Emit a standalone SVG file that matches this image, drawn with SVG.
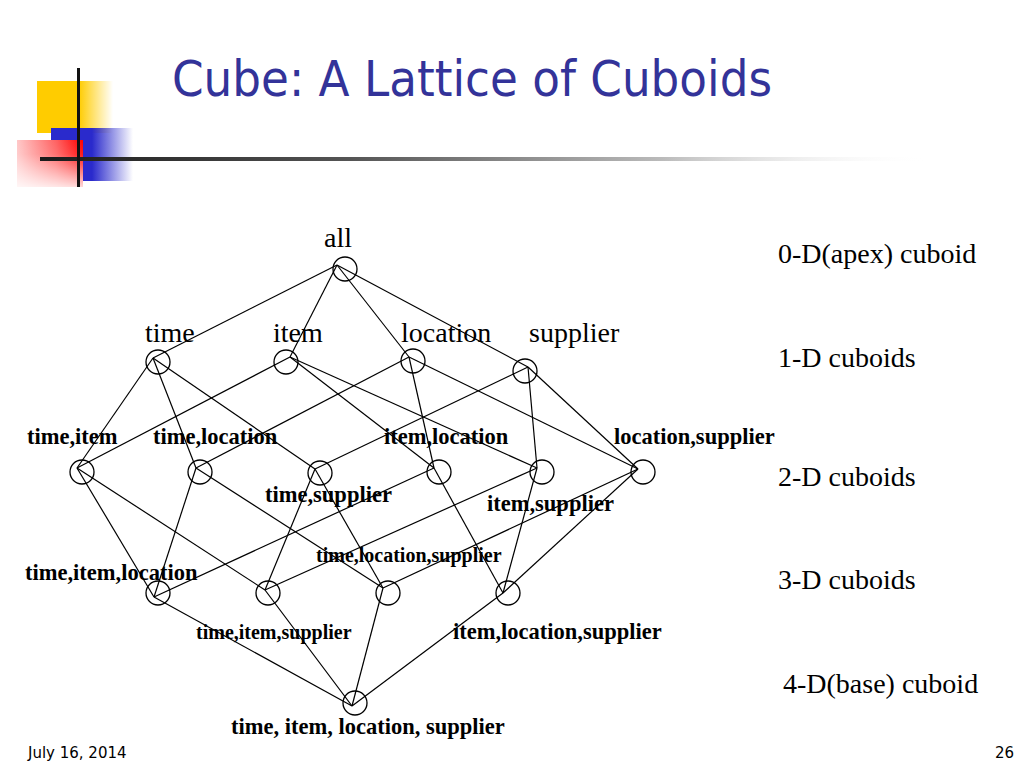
<svg xmlns="http://www.w3.org/2000/svg" width="1024" height="768" viewBox="0 0 1024 768">
<defs>
<linearGradient id="gY" x1="0" y1="0" x2="1" y2="0"><stop offset="0" stop-color="#FFCC00"/><stop offset="0.55" stop-color="#FFCC00"/><stop offset="1" stop-color="#FFCC00" stop-opacity="0"/></linearGradient>
<linearGradient id="gB" x1="0" y1="0" x2="1" y2="0"><stop offset="0" stop-color="#2A2ACC"/><stop offset="0.5" stop-color="#2A2ACC"/><stop offset="1" stop-color="#2A2ACC" stop-opacity="0"/></linearGradient>
<linearGradient id="gR" x1="0" y1="0" x2="1" y2="0"><stop offset="0" stop-color="#FFC8C8"/><stop offset="0.6" stop-color="#FF6060"/><stop offset="1" stop-color="#FF0000"/></linearGradient>
<linearGradient id="gRw" x1="0" y1="0" x2="0" y2="1"><stop offset="0" stop-color="#fff" stop-opacity="0"/><stop offset="0.3" stop-color="#fff" stop-opacity="0.1"/><stop offset="1" stop-color="#fff" stop-opacity="0.85"/></linearGradient>
<linearGradient id="gL" x1="0" y1="0" x2="1" y2="0"><stop offset="0" stop-color="#1a1a1a"/><stop offset="0.35" stop-color="#555"/><stop offset="0.7" stop-color="#bbb"/><stop offset="1" stop-color="#fff" stop-opacity="0"/></linearGradient>
<style>
.title{font-family:"DejaVu Sans","Liberation Sans",sans-serif;font-size:50px;fill:#333399}
.foot{font-family:"DejaVu Sans","Liberation Sans",sans-serif;font-size:15px;fill:#000}
.lab{font-family:"Liberation Serif","Times New Roman",serif;font-size:28px;fill:#000}
.b{font-family:"Liberation Serif","Times New Roman",serif;font-size:22.5px;font-weight:bold;fill:#000}
.bs{font-family:"Liberation Serif","Times New Roman",serif;font-size:20px;font-weight:bold;fill:#000}
.n{fill:none;stroke:#000;stroke-width:1.3}
.e line{stroke:#000;stroke-width:1.2}
</style>
</defs>
<rect width="1024" height="768" fill="#fff"/>
<g id="decoration">
<rect x="37" y="81" width="76" height="52" fill="url(#gY)"/>
<rect x="51" y="128" width="82" height="53" fill="url(#gB)"/>
<rect x="17" y="140" width="66" height="47" fill="url(#gR)"/>
<rect x="17" y="140" width="66" height="47" fill="url(#gRw)"/>
<rect x="40" y="157" width="890" height="4" fill="url(#gL)"/>
<rect x="77" y="68" width="3" height="119" fill="#111"/>
</g>
<text class="title" x="172" y="96" textLength="600" lengthAdjust="spacingAndGlyphs">Cube: A Lattice of Cuboids</text>
<g id="connectors" class="e">
<line x1="337" y1="265" x2="153" y2="358"/>
<line x1="337" y1="265" x2="290" y2="357"/>
<line x1="337" y1="265" x2="409" y2="357"/>
<line x1="337" y1="265" x2="528" y2="367"/>
<line x1="153" y1="358" x2="77" y2="468"/>
<line x1="153" y1="358" x2="196" y2="468"/>
<line x1="153" y1="358" x2="315" y2="469"/>
<line x1="290" y1="357" x2="77" y2="468"/>
<line x1="290" y1="357" x2="434" y2="468"/>
<line x1="290" y1="357" x2="537" y2="468"/>
<line x1="409" y1="357" x2="196" y2="468"/>
<line x1="409" y1="357" x2="434" y2="468"/>
<line x1="409" y1="357" x2="638" y2="469"/>
<line x1="528" y1="367" x2="315" y2="469"/>
<line x1="528" y1="367" x2="537" y2="468"/>
<line x1="528" y1="367" x2="638" y2="469"/>
<line x1="77" y1="468" x2="154" y2="597"/>
<line x1="77" y1="468" x2="265" y2="590"/>
<line x1="196" y1="468" x2="154" y2="597"/>
<line x1="196" y1="468" x2="383" y2="588"/>
<line x1="315" y1="469" x2="265" y2="590"/>
<line x1="315" y1="469" x2="383" y2="588"/>
<line x1="434" y1="468" x2="154" y2="597"/>
<line x1="434" y1="468" x2="503" y2="593"/>
<line x1="537" y1="468" x2="265" y2="590"/>
<line x1="537" y1="468" x2="503" y2="593"/>
<line x1="638" y1="469" x2="383" y2="588"/>
<line x1="638" y1="469" x2="503" y2="593"/>
<line x1="154" y1="597" x2="352" y2="706"/>
<line x1="265" y1="590" x2="352" y2="706"/>
<line x1="383" y1="588" x2="352" y2="706"/>
<line x1="503" y1="593" x2="352" y2="706"/>
</g>
<g id="n-all"><circle class="n" cx="345" cy="269" r="12"/><text class="lab" x="338" y="247" text-anchor="middle">all</text></g>
<g id="n-time"><circle class="n" cx="158" cy="362" r="12"/><text class="lab" x="145" y="342">time</text></g>
<g id="n-item"><circle class="n" cx="286" cy="362" r="12"/><text class="lab" x="273" y="342">item</text></g>
<g id="n-location"><circle class="n" cx="413" cy="361" r="12"/><text class="lab" x="401" y="342">location</text></g>
<g id="n-supplier"><circle class="n" cx="525" cy="371" r="12"/><text class="lab" x="529" y="342">supplier</text></g>
<g id="n-time-item"><circle class="n" cx="82" cy="472" r="12"/><text class="b" x="27" y="444">time,item</text></g>
<g id="n-time-location"><circle class="n" cx="200" cy="472" r="12"/><text class="b" x="153" y="444">time,location</text></g>
<g id="n-time-supplier"><circle class="n" cx="320" cy="473" r="12"/><text class="b" x="265" y="502">time,supplier</text></g>
<g id="n-item-location"><circle class="n" cx="439" cy="472" r="12"/><text class="b" x="384" y="444">item,location</text></g>
<g id="n-item-supplier"><circle class="n" cx="542" cy="472" r="12"/><text class="b" x="487" y="511">item,supplier</text></g>
<g id="n-location-supplier"><circle class="n" cx="643" cy="472" r="12"/><text class="b" x="614" y="444">location,supplier</text></g>
<g id="n-time-item-location"><circle class="n" cx="158" cy="593" r="12"/><text class="b" x="25" y="580">time,item,location</text></g>
<g id="n-time-item-supplier"><circle class="n" cx="268" cy="593" r="12"/><text class="bs" x="196" y="639">time,item,supplier</text></g>
<g id="n-time-location-supplier"><circle class="n" cx="388" cy="593" r="12"/><text class="bs" x="316" y="562">time,location,supplier</text></g>
<g id="n-item-location-supplier"><circle class="n" cx="508" cy="593" r="12"/><text class="b" x="453" y="639">item,location,supplier</text></g>
<g id="n-base"><circle class="n" cx="355" cy="703" r="12"/><text class="b" x="231" y="734">time, item, location, supplier</text></g>
<g id="levels">
<text class="lab" x="778" y="263">0-D(apex) cuboid</text>
<text class="lab" x="778" y="367">1-D cuboids</text>
<text class="lab" x="778" y="486">2-D cuboids</text>
<text class="lab" x="778" y="589">3-D cuboids</text>
<text class="lab" x="783" y="693">4-D(base) cuboid</text>
</g>
<text class="foot" x="28" y="758">July 16, 2014</text>
<text class="foot" x="1014" y="758" text-anchor="end">26</text>
</svg>
